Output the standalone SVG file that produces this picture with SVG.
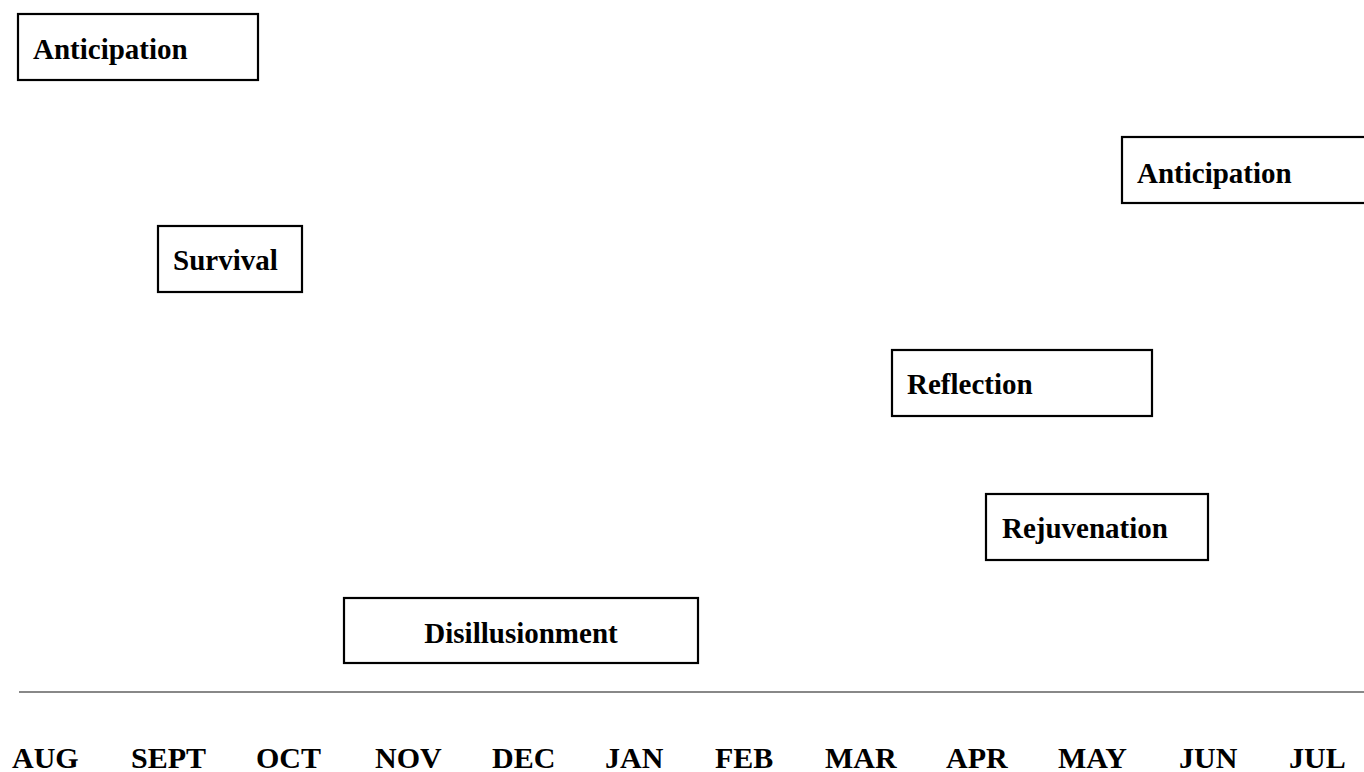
<svg xmlns="http://www.w3.org/2000/svg" width="1364" height="772" viewBox="0 0 1364 772">
<style>
.box{fill:#fff;stroke:#000;stroke-width:2.2}
.lbl{font-family:"Liberation Serif","Times New Roman",serif;font-weight:bold;font-size:29px;fill:#000}
.mon{font-family:"Liberation Serif","Times New Roman",serif;font-weight:bold;font-size:30px;fill:#000}
.axis{stroke:#888;stroke-width:2.2}
</style>
<rect x="0" y="0" width="1364" height="772" fill="#fff"/>
<g id="node-anticipation-1"><rect class="box" x="18" y="14" width="240" height="66"/><text class="lbl" x="33" y="59">Anticipation</text></g>
<g id="node-anticipation-2"><rect class="box" x="1122" y="137" width="250" height="66"/><text class="lbl" x="1137" y="183">Anticipation</text></g>
<g id="node-survival"><rect class="box" x="158" y="226" width="144" height="66"/><text class="lbl" x="173" y="270">Survival</text></g>
<g id="node-reflection"><rect class="box" x="892" y="350" width="260" height="66"/><text class="lbl" x="907" y="394">Reflection</text></g>
<g id="node-rejuvenation"><rect class="box" x="986" y="494" width="222" height="66"/><text class="lbl" x="1002" y="538">Rejuvenation</text></g>
<g id="node-disillusionment"><rect class="box" x="344" y="598" width="354" height="65"/><text class="lbl" x="521" y="643" text-anchor="middle">Disillusionment</text></g>
<g id="connectors"><line class="axis" x1="19" y1="692" x2="1364" y2="692"/></g>
<g id="months">
<text class="mon" x="12" y="768">AUG</text>
<text class="mon" x="131" y="768">SEPT</text>
<text class="mon" x="256" y="768">OCT</text>
<text class="mon" x="375" y="768">NOV</text>
<text class="mon" x="492" y="768">DEC</text>
<text class="mon" x="605" y="768">JAN</text>
<text class="mon" x="715" y="768">FEB</text>
<text class="mon" x="825" y="768">MAR</text>
<text class="mon" x="946" y="768">APR</text>
<text class="mon" x="1058" y="768">MAY</text>
<text class="mon" x="1179" y="768">JUN</text>
<text class="mon" x="1289" y="768">JUL</text>
</g>
</svg>
